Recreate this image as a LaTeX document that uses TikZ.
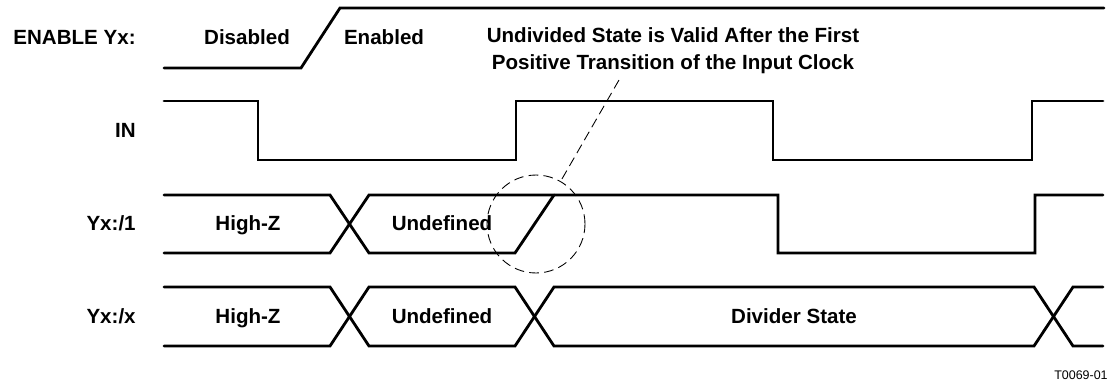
\documentclass[tikz,border=0pt]{standalone}
\usepackage{fontspec}
\setmainfont{Liberation Sans}
\usepackage{tikz}

\begin{document}
\begin{tikzpicture}[x=0.02cm, y=-0.02cm,
  font=\bfseries\fontsize{11.7}{15.3}\selectfont,
  wave/.style={line width=1.6pt, line cap=round},
  lbl/.style={text height=11pt, text depth=2.6pt, inner sep=0},
  note/.style={line width=0.5pt, dash pattern=on 5.5pt off 3pt}]
\useasboundingbox (0,0) rectangle (1109,383);

% signal names
\node[lbl, anchor=east] (en) at (136,37) {ENABLE Yx:};
\node[lbl, anchor=east] (in) at (136,130) {IN};
\node[lbl, anchor=east] (y1) at (136,223) {Yx:/1};
\node[lbl, anchor=east] (yx) at (136,316) {Yx:/x};

% ENABLE
\draw[wave] (164,68) -- (301,68) -- (340,8) -- (1104,8);
\node[lbl] (dis) at (247,37) {Disabled};
\node[lbl] (ena) at (384,37) {Enabled};

% IN
\draw[wave] (164,101) -- (258,101) -- (258,160) -- (516,160) -- (516,101)
	-- (773,101) -- (773,160) -- (1032,160) -- (1032,101) -- (1103,101);

% Yx:/1
\draw[wave] (164,195) -- (330,195) -- (369,253) -- (515,253) -- (554,195);
\draw[wave] (164,253) -- (330,253) -- (369,195) -- (778,195) -- (778,253)
	-- (1035,253) -- (1035,195) -- (1103,195);
\node[lbl] (hz1) at (248,223) {High-Z};
\node[lbl] (ud1) at (442,223) {Undefined};

% Yx:/x
\draw[wave] (164,287) -- (330,287) -- (369,346) -- (515,346) -- (554,287)
	-- (1034,287) -- (1073,346) -- (1103,346);
\draw[wave] (164,346) -- (330,346) -- (369,287) -- (515,287) -- (554,346)
	-- (1034,346) -- (1073,287) -- (1103,287);
\node[lbl] (hzx) at (248,316) {High-Z};
\node[lbl] (udx) at (442,316) {Undefined};
\node[lbl] (dst) at (794,316) {Divider State};

% note
\node[align=center] (txt) at (673,50.5) {Undivided State is Valid After the First\\Positive Transition of the Input Clock};
\node[draw, circle, note, minimum size=1.96cm, inner sep=0] (ring) at (536,224) {};
\coordinate (tip) at (619,80);
\draw[note] (tip) -- (ring);

\node[anchor=east, inner sep=0, font=\normalfont\fontsize{7.1}{8}\selectfont] (fig) at (1108,375) {T0069-01};
\end{tikzpicture}
\end{document}
